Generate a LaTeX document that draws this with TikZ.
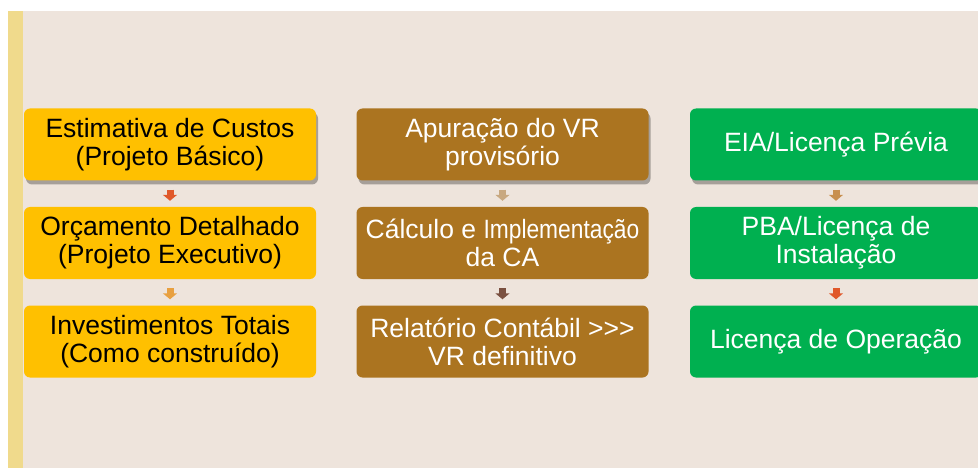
\documentclass[tikz,border=0pt]{standalone}
\usepackage{fontspec}
\setmainfont{Liberation Sans}
\usetikzlibrary{shadows,arrows.meta}
\definecolor{bgbeige}{HTML}{EEE4DC}
\definecolor{barY}{HTML}{F0DA8C}
\definecolor{boxY}{HTML}{FFC000}
\definecolor{boxB}{HTML}{AB7420}
\definecolor{boxG}{HTML}{00B050}
\definecolor{arRed}{HTML}{E0582A}
\definecolor{arOrg}{HTML}{E8A040}
\definecolor{arTan}{HTML}{C8A880}
\definecolor{arBrn}{HTML}{7A5040}
\definecolor{arTo}{HTML}{C89050}
\tikzset{
  stepbox/.style={rounded corners=6pt, minimum width=292pt, minimum height=72pt,
    align=center, inner sep=0pt, font=\fontsize{26.5}{28}\selectfont},
  shad/.style={drop shadow={shadow xshift=2pt, shadow yshift=-4pt, opacity=0.3, fill=black}},
  ybox/.style={stepbox, fill=boxY, text=black},
  bbox/.style={stepbox, fill=boxB, text=white},
  gbox/.style={stepbox, fill=boxG, text=white},
  flow/.style={line width=7pt, -{Triangle[width=14pt,length=6pt]}, shorten <=9pt, shorten >=6pt}
}
\begin{document}
\begin{tikzpicture}[x=1pt,y=-1pt]
\useasboundingbox (0,0) rectangle (978,468);
\fill[white] (0,0) rectangle (978,468);
\fill[bgbeige] (23,11) rectangle (978,468);
\fill[barY] (8,11) rectangle (23,468);
\begin{scope}
\clip (0,0) rectangle (978,468);
% column 1
\node[ybox, shad] (a1) at (170,144.5) {Estimativa de Custos\\(Projeto Básico)};
\node[ybox] (a2) at (170,243) {Orçamento Detalhado\\(Projeto Executivo)};
\node[ybox] (a3) at (170,341.5) {Investimentos Totais\\(Como construído)};
% column 2
\node[bbox, shad] (b1) at (502.5,144.5) {Apuração do VR\\provisório};
\node[bbox] (b2) at (502.5,243) {Cálculo e \scalebox{0.86}[1]{Implementação}\\da CA};
\node[bbox] (b3) at (502.5,341.5) {Relatório Contábil >{}>{}>\\VR definitivo};
% column 3
\node[gbox, shad] (c1) at (836,144.5) {EIA/Licença Prévia};
\node[gbox] (c2) at (836,243) {PBA/Licença de\\Instalação};
\node[gbox] (c3) at (836,341.5) {Licença de Operação};
\end{scope}
\draw[flow, arRed] (a1) -- (a2);
\draw[flow, arOrg] (a2) -- (a3);
\draw[flow, arTan] (b1) -- (b2);
\draw[flow, arBrn] (b2) -- (b3);
\draw[flow, arTo] (c1) -- (c2);
\draw[flow, arRed] (c2) -- (c3);
\end{tikzpicture}
\end{document}
